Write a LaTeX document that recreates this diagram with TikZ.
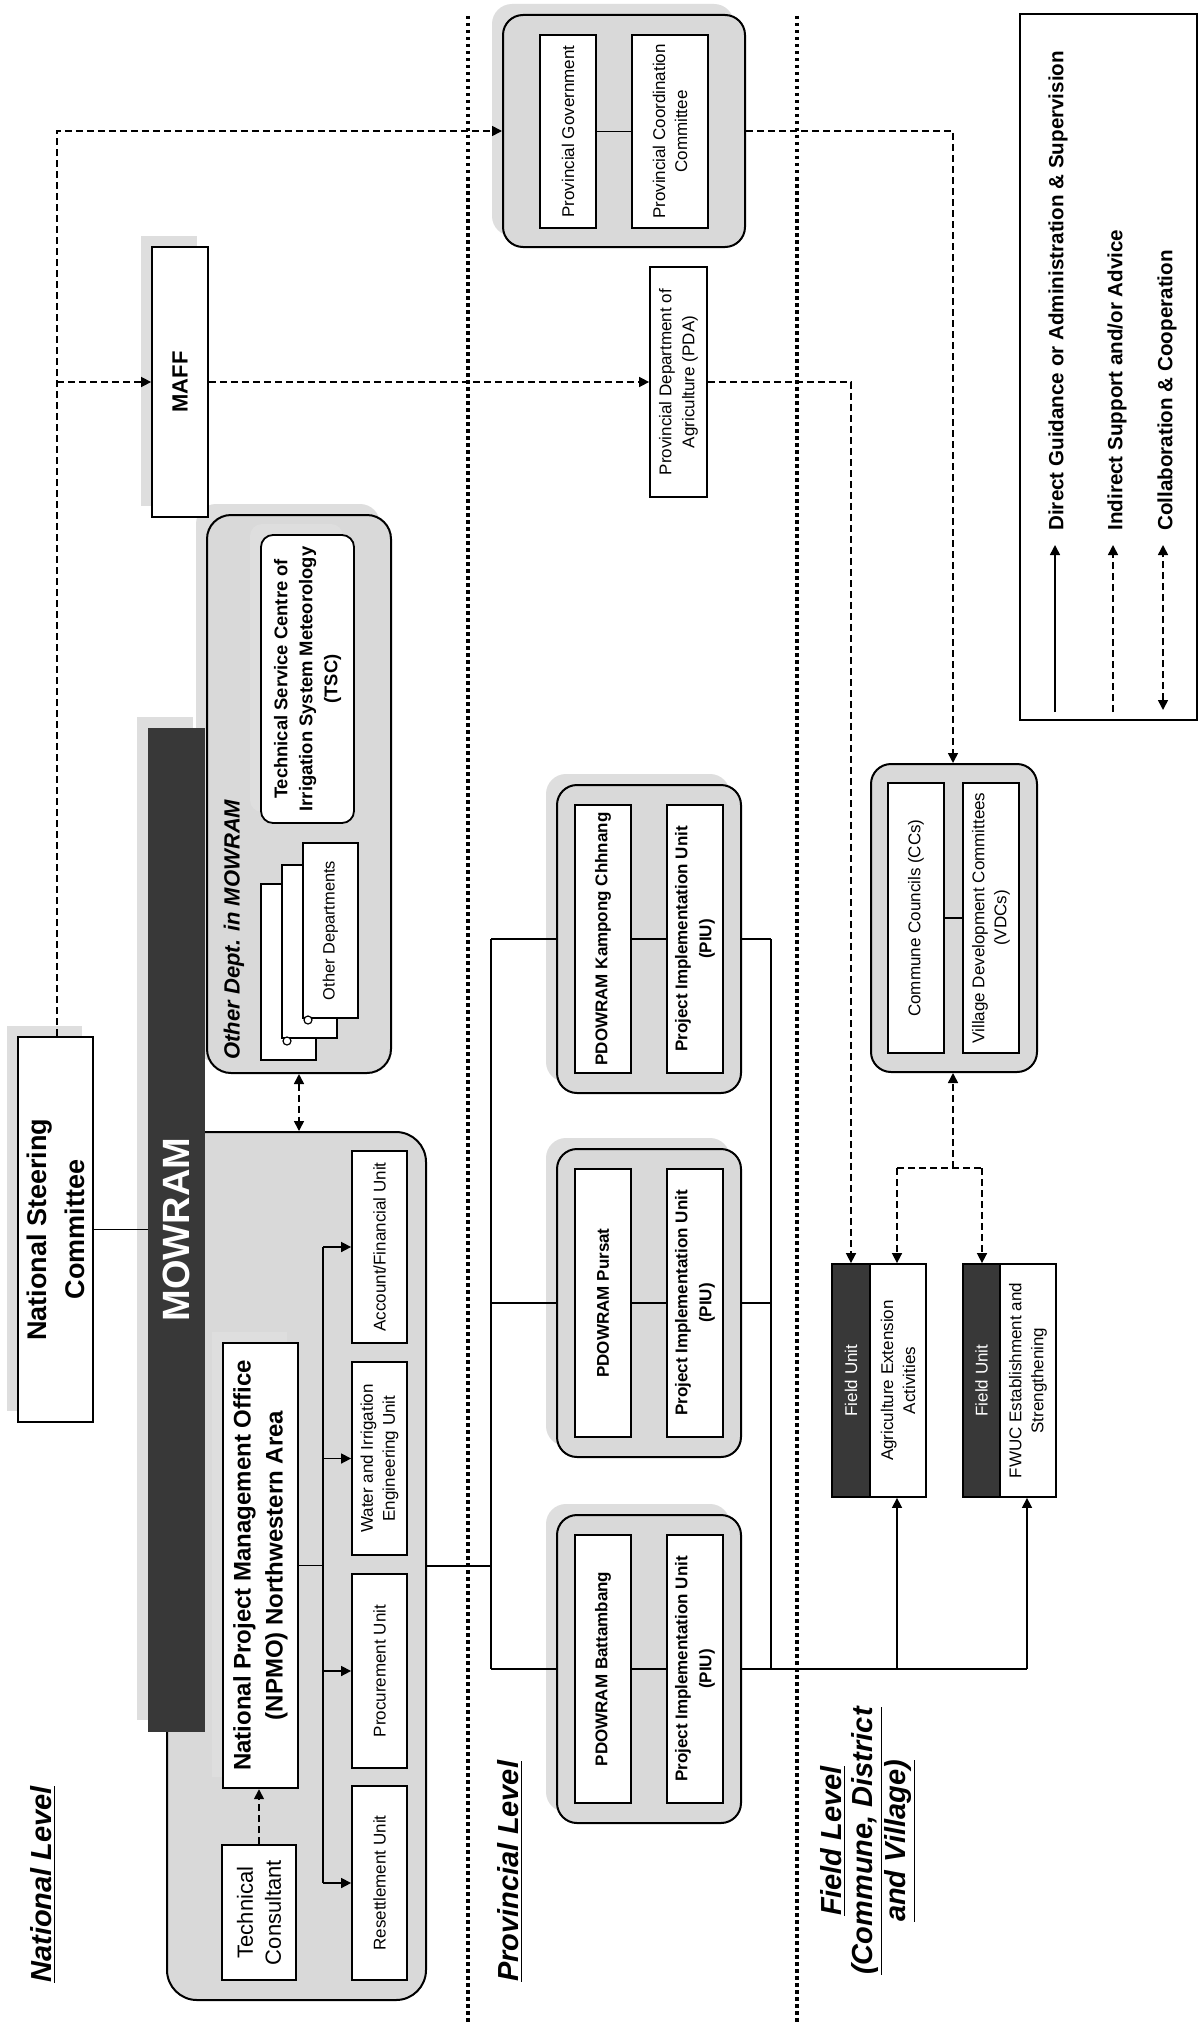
\documentclass[tikz,border=0pt]{standalone}
\usepackage{fontspec}
\setmainfont{Liberation Sans}
\usetikzlibrary{arrows.meta,calc}
\definecolor{grpfill}{gray}{0.85}
\definecolor{shade}{gray}{0.87}
\definecolor{darkbar}{gray}{0.22}
\newcommand\mkbox[7][]{%
  \pgfmathsetmacro\mkcx{(#3+#5)/2}%
  \pgfmathsetmacro\mkcy{(#4+#6)/2}%
  \pgfmathsetmacro\mkw{abs(#6-#4)*0.5}%
  \pgfmathsetmacro\mkh{abs(#5-#3)*0.5}%
  \node[rotate=90, minimum width=\mkw pt, minimum height=\mkh pt, inner sep=0pt, #1] (#2) at (\mkcx,\mkcy) {#7};%
}
\newcommand\mkshadow[5][]{\fill[shadowfill,#1] (#2-11,#3-11) rectangle (#4-11,#5-11);}
\begin{document}
\begin{tikzpicture}[x=0.5pt, y=-0.5pt,
  box/.style={draw, line width=0.9pt, fill=white},
  grp/.style={draw, line width=1pt, fill=grpfill, rounded corners=10pt},
  shadowfill/.style={fill=shade, rounded corners=10pt},
  rtxt/.style={font=\fontsize{8.5}{11}\selectfont, align=center},
  btxt/.style={font=\bfseries\fontsize{8.5}{12}\selectfont, align=center},
  conn/.style={line width=0.8pt},
  dsh/.style={line width=0.8pt, dash pattern=on 3.5pt off 2pt},
  arr/.style={-{Triangle[length=5pt,width=5pt]}},
  dbl/.style={{Triangle[length=5pt,width=5pt]}-{Triangle[length=5pt,width=5pt]}},
  sepline/.style={line width=1.75pt, dash pattern=on 1.75pt off 1.75pt},
  lvl/.style={font=\bfseries\itshape\fontsize{14.5}{15.5}\selectfont, inner sep=0pt},
  legtxt/.style={font=\bfseries\fontsize{10.3}{12}\selectfont, inner sep=0pt},
  darkband/.style={draw, line width=0.9pt, fill=darkbar, text=white, font=\fontsize{8.5}{10}\selectfont}
]
\fill[white] (0,0) rectangle (1200,2023);
\useasboundingbox (0,0) rectangle (1200,2023);

% level separators
\coordinate (s1t) at (468,16); \coordinate (s1b) at (468,2023);
\coordinate (s2t) at (797,16); \coordinate (s2b) at (797,2023);
\draw[sepline] (s1t) -- (s1b);
\draw[sepline] (s2t) -- (s2b);

% shadows of top level items
\mkshadow[sharp corners]{18}{1037}{93}{1422}
\mkshadow[sharp corners]{152}{247}{208}{517}
\mkshadow{503}{15}{745}{247}
\mkshadow{207}{515}{391}{1073}
\mkshadow{557}{785}{741}{1093}
\mkshadow{557}{1149}{741}{1457}
\mkshadow{557}{1515}{741}{1823}

% groups
\mkbox[grp]{provgrp}{503}{15}{745}{247}{}
\mkbox[grp, rounded corners=12pt]{othgrp}{207}{515}{391}{1073}{}
\mkbox[grp, rounded corners=15pt]{npmogrp}{167}{1132}{426}{2000}{}
\mkbox[grp]{kcgrp}{557}{785}{741}{1093}{}
\mkbox[grp]{psgrp}{557}{1149}{741}{1457}{}
\mkbox[grp]{btgrp}{557}{1515}{741}{1823}{}
\mkbox[grp]{comgrp}{871}{764}{1037}{1072}{}

% MOWRAM bar
\mkshadow[sharp corners]{148}{728}{204}{1731}
\mkbox[draw=darkbar, fill=darkbar, text=white, font=\bfseries\fontsize{19}{20}\selectfont]{bar}{148}{728}{204}{1731}{MOWRAM}

% national level boxes
\mkbox[box, font=\bfseries\fontsize{13.5}{19}\selectfont, align=center]{nsc}{18}{1037}{93}{1422}{National Steering\\Committee}
\mkbox[box, font=\bfseries\fontsize{11}{12}\selectfont]{maff}{152}{247}{208}{517}{MAFF}
\mkshadow[rounded corners=6pt]{261}{535}{354}{823}
\mkbox[box, rounded corners=6pt, font=\bfseries\fontsize{9.2}{12.5}\selectfont, align=center]{tsc}{261}{535}{354}{823}{Technical Service Centre of\\Irrigation System Meteorology\\(TSC)}
\mkbox[box]{od3}{261}{884}{316}{1060}{}
\mkbox[box]{od2}{282}{865}{337}{1038}{}
\mkbox[box, font=\fontsize{8.2}{10}\selectfont]{od1}{303}{843}{358}{1018}{Other Departments}
\draw[fill=white, line width=0.6pt] (287,1041) circle (4);
\draw[fill=white, line width=0.6pt] (308,1020) circle (4);
\node[rotate=90, anchor=west, inner sep=0pt, font=\bfseries\itshape\fontsize{11}{12}\selectfont] (othttl) at (234,1060) {Other Dept. in MOWRAM};

\mkshadow[sharp corners]{223}{1343}{298}{1788}
\mkbox[box, line width=1.2pt, font=\bfseries\fontsize{12}{16}\selectfont, align=center]{npmo}{223}{1343}{298}{1788}{National Project Management Office\\(NPMO) Northwestern Area}
\mkbox[box, font=\fontsize{11}{14}\selectfont, align=center]{tc}{222}{1845}{296}{1980}{Technical\\Consultant}
\mkbox[box, rtxt]{acc}{352}{1151}{407}{1343}{Account/Financial Unit}
\mkbox[box, rtxt]{wie}{352}{1362}{407}{1555}{Water and Irrigation\\Engineering Unit}
\mkbox[box, rtxt]{proc}{352}{1574}{407}{1768}{Procurement Unit}
\mkbox[box, rtxt]{reset}{352}{1786}{407}{1980}{Resettlement Unit}

% provincial level boxes
\mkbox[box, rtxt]{provgov}{540}{35}{596}{228}{Provincial Government}
\mkbox[box, rtxt]{pcc}{632}{35}{708}{228}{Provincial Coordination\\Committee}
\mkbox[box, font=\fontsize{8.5}{11.5}\selectfont, align=center]{pda}{650}{267}{707}{497}{Provincial Department of\\Agriculture (PDA)}
\mkbox[box, btxt]{kcpd}{575}{805}{631}{1073}{PDOWRAM Kampong Chhnang}
\mkbox[box, btxt]{kcpiu}{667}{805}{723}{1073}{Project Implementation Unit\\(PIU)}
\mkbox[box, btxt]{pspd}{575}{1169}{631}{1437}{PDOWRAM Pursat}
\mkbox[box, btxt]{pspiu}{667}{1169}{723}{1437}{Project Implementation Unit\\(PIU)}
\mkbox[box, btxt]{btpd}{575}{1535}{631}{1803}{PDOWRAM Battambang}
\mkbox[box, btxt]{btpiu}{667}{1535}{723}{1803}{Project Implementation Unit\\(PIU)}

% field level boxes
\mkbox[box, rtxt]{cc}{888}{783}{944}{1053}{Commune Councils (CCs)}
\mkbox[box, rtxt]{vdc}{963}{783}{1019}{1053}{Village Development Committees\\(VDCs)}
\mkbox[darkband]{fu1b}{832}{1264}{870}{1497}{Field Unit}
\mkbox[box, rtxt]{fu1}{870}{1264}{926}{1497}{Agriculture Extension\\Activities}
\mkbox[darkband]{fu2b}{963}{1264}{1000}{1497}{Field Unit}
\mkbox[box, rtxt]{fu2}{1000}{1264}{1056}{1497}{FWUC Establishment and\\Strengthening}

% level labels
\node[lvl, rotate=90, anchor=west] (natl) at (43,1983) {\underline{National Level}};
\node[lvl, rotate=90, anchor=west] (provl) at (510,1982) {\underline{Provincial Level}};
\node[lvl, rotate=90, align=center, font=\bfseries\itshape\fontsize{14.5}{15.5}\selectfont] (fieldl) at (868,1841) {\underline{Field Level}\\\underline{(Commune, District}\\\underline{and Village)}};

% legend
\mkbox[draw, line width=0.6pt]{legbox}{1020}{14}{1197}{720}{}
\coordinate (l1a) at (1055,712); \coordinate (l1b) at (1055,545);
\coordinate (l2a) at (1113,712); \coordinate (l2b) at (1113,545);
\coordinate (l3a) at (1163,710); \coordinate (l3b) at (1163,545);
\draw[conn,arr] (l1a) -- (l1b);
\draw[dsh,arr] (l2a) -- (l2b);
\draw[dsh,dbl] (l3a) -- (l3b);
\node[legtxt, rotate=90, anchor=west] (lt1) at (1058,531) {Direct Guidance or Administration \& Supervision};
\node[legtxt, rotate=90, anchor=west] (lt2) at (1117,531) {Indirect Support and/or Advice};
\node[legtxt, rotate=90, anchor=west] (lt3) at (1167,531) {Collaboration \& Cooperation};

% indirect support (dashed)
\coordinate (cTL) at (57,131);
\coordinate (cML) at (57,382);
\draw[dsh,arr] (nsc.east -| cTL) -- (cTL) -- (cTL -| provgrp.north);
\draw[dsh,arr] (cML) -- (cML -| maff.north);
\draw[dsh,arr] (maff.south) -- (pda.north);
\coordinate (cPD) at (851,382);
\draw[dsh,arr] (pda.south) -- (cPD) -- (cPD |- fu1b.east);
\coordinate (cPG) at (953,131);
\draw[dsh,arr] (provgrp.south) -- (cPG) -- (cPG |- comgrp.east);
\draw[dsh,arr] (tc.east) -- (tc.east |- npmo.west);

% collaboration
\draw[dsh,dbl] (othgrp.west) -- (othgrp.west |- npmogrp.east);
\coordinate (cCM) at (953,1168);
\coordinate (cCL) at (897,1168);
\coordinate (cCR) at (982,1168);
\draw[dsh,arr] (cCM) -- (cCM |- comgrp.west);
\draw[dsh] (cCL) -- (cCR);
\draw[dsh,arr] (cCL) -- (cCL |- fu1.east);
\draw[dsh,arr] (cCR) -- (cCR |- fu2b.east);

% direct guidance (solid)
\draw[conn] (nsc.south) -- (nsc.south -| bar.north);
\draw[conn] (provgov.south) -- (pcc.north);
\draw[conn] (cc.south) -- (vdc.north);
\coordinate (bT) at (323,1247);
\coordinate (bB) at (323,1883);
\draw[conn] (bT) -- (bB);
\draw[conn] (npmo.south) -- (npmo.south -| bT);
\draw[conn,arr] (bT) -- (bT -| acc.north);
\draw[conn,arr] (bT |- wie.north) -- (wie.north);
\draw[conn,arr] (bT |- proc.north) -- (proc.north);
\draw[conn,arr] (bB) -- (bB -| reset.north);

\coordinate (pL1) at (491,939); \coordinate (pL3) at (491,1669);
\coordinate (pR1) at (771,939); \coordinate (pR3) at (771,1669);
\draw[conn] (pL1) -- (pL3);
\draw[conn] (pR1) -- (pR3);
\draw[conn] (npmogrp.south) -- (npmogrp.south -| pL1);
\draw[conn] (pL1) -- (kcgrp.north);
\draw[conn] (psgrp.north -| pL1) -- (psgrp.north);
\draw[conn] (pL3) -- (btgrp.north);
\draw[conn] (kcpd.south) -- (kcpiu.north);
\draw[conn] (pspd.south) -- (pspiu.north);
\draw[conn] (btpd.south) -- (btpiu.north);
\draw[conn] (kcgrp.south) -- (pR1);
\draw[conn] (psgrp.south) -- (psgrp.south -| pR1);
\draw[conn] (btgrp.south) -- (pR3);
\coordinate (f1) at (897,1669);
\coordinate (f2) at (1027,1669);
\draw[conn] (pR3) -- (f2);
\draw[conn,arr] (f1) -- (f1 |- fu1.west);
\draw[conn,arr] (f2) -- (f2 |- fu2.west);
\end{tikzpicture}
\end{document}
